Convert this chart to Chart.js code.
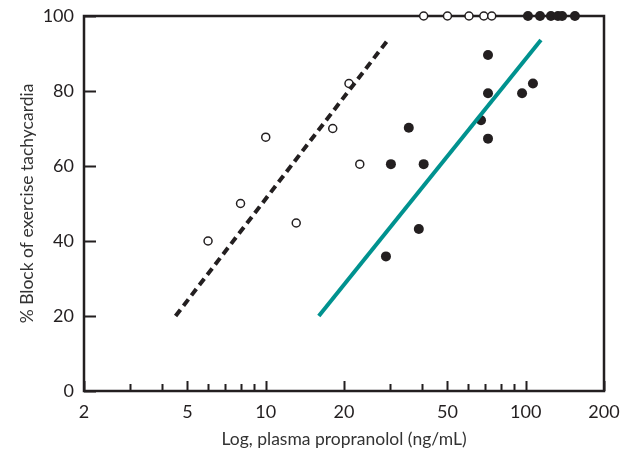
<!DOCTYPE html>
<html>
<head>
<meta charset="utf-8">
<script src="https://cdn.jsdelivr.net/npm/chart.js@4.4.1/dist/chart.umd.min.js"></script>
<style>
  html, body { margin: 0; padding: 0; background: #fff; }
  #wrap { width: 625px; height: 454px; }
</style>
</head>
<body>
<div id="wrap"><canvas id="grafico"></canvas></div>
<script>
// open circles (propranolol alone)
const abertosX = [6, 8, 10, 13.1, 18.1, 20.9, 23, 40.5, 50, 60.5, 69, 74];
const abertosY = [40, 50, 67.7, 44.8, 70, 82, 60.5, 100, 100, 100, 100, 100];
// filled circles
const cheiosX = [29, 30.3, 35.5, 38.8, 40.5, 67.3, 71.6, 71.6, 71.6, 96.8, 106.6, 102, 113.5, 125, 133, 138, 154.6];
const cheiosY = [35.9, 60.5, 70.2, 43.2, 60.5, 72.2, 67.3, 79.4, 89.6, 79.4, 82, 100, 100, 100, 100, 100, 100];
// regression lines
const linhaTracejadaX = [4.5, 29.5];
const linhaTracejadaY = [20, 93.6];
const linhaVerdeX = [16, 114.4];
const linhaVerdeY = [20, 93.6];
// ticks
const xTicks = [2, 3, 4, 5, 6, 7, 8, 9, 10, 20, 30, 40, 50, 60, 70, 80, 90, 100, 200];
const xRotulos = [2, 5, 10, 20, 50, 100, 200];
const yTicks = [0, 20, 40, 60, 80, 100];

const pares = (xs, ys) => xs.map((v, i) => ({ x: v, y: ys[i] }));
const cor = '#231f20';

const moldura = {
    id: 'moldura',
    beforeDatasetsDraw(chart) {
        const { ctx, chartArea: { left, right, top, bottom }, scales: { x, y } } = chart;
        ctx.save();
        ctx.strokeStyle = cor;
        ctx.lineWidth = 2.5;
        ctx.strokeRect(left, top, right - left, bottom - top);
        ctx.lineWidth = 2;
        ctx.beginPath();
        xTicks.forEach(v => {
            const px = Math.round(x.getPixelForValue(v)) + 0.5;
            const len = xRotulos.includes(v) ? 10 : 7;
            ctx.moveTo(px, bottom);
            ctx.lineTo(px, bottom - len);
        });
        yTicks.forEach(v => {
            const py = Math.round(y.getPixelForValue(v)) + 0.5;
            ctx.moveTo(left, py);
            ctx.lineTo(left + 12, py);
        });
        ctx.stroke();
        ctx.restore();
    }
};

const graficoPropranolol = new Chart(document.getElementById('grafico').getContext('2d'), {
    type: 'scatter',
    data: {
        datasets: [
            {
                label: 'Tracejada',
                type: 'line',
                data: pares(linhaTracejadaX, linhaTracejadaY),
                borderColor: cor,
                borderWidth: 4,
                borderDash: [8, 5],
                pointRadius: 0,
                fill: false
            },
            {
                label: 'Verde',
                type: 'line',
                data: pares(linhaVerdeX, linhaVerdeY),
                borderColor: '#00928f',
                borderWidth: 4,
                pointRadius: 0,
                fill: false
            },
            {
                label: 'Abertos',
                data: pares(abertosX, abertosY),
                pointRadius: 4,
                pointBorderWidth: 1.5,
                pointBackgroundColor: '#fff',
                pointBorderColor: cor,
                clip: false
            },
            {
                label: 'Cheios',
                data: pares(cheiosX, cheiosY),
                pointRadius: 5,
                pointBorderWidth: 0,
                pointBackgroundColor: cor,
                pointBorderColor: cor,
                clip: false
            }
        ]
    },
    options: {
        responsive: true,
        maintainAspectRatio: false,
        animation: false,
        layout: { padding: { top: 16, right: 21, left: 0, bottom: 0 } },
        plugins: {
            legend: { display: false },
            tooltip: { enabled: false }
        },
        scales: {
            x: {
                type: 'logarithmic',
                min: 2,
                max: 200,
                afterFit: s => {
                    s.height = 63;
                    s.paddingLeft = 0;
                    s.paddingRight = 0;
                },
                afterBuildTicks: s => { s.ticks = xTicks.map(v => ({ value: v })); },
                grid: { display: false, drawTicks: false },
                border: { display: false },
                ticks: {
                    autoSkip: false,
                    maxRotation: 0,
                    padding: 10,
                    color: cor,
                    font: { family: 'Lato', size: 18 },
                    callback: v => xRotulos.includes(v) ? String(v) : ''
                },
                title: {
                    display: true,
                    text: 'Log, plasma propranolol (ng/mL)',
                    color: '#333',
                    font: { family: 'Lato', size: 17.5 },
                    padding: { top: 4, bottom: 4 }
                }
            },
            y: {
                min: 0,
                max: 100,
                afterFit: s => {
                    s.width = 84;
                    s.paddingTop = 0;
                    s.paddingBottom = 0;
                },
                afterBuildTicks: s => { s.ticks = yTicks.map(v => ({ value: v })); },
                grid: { display: false, drawTicks: false },
                border: { display: false },
                ticks: {
                    padding: 10,
                    color: cor,
                    font: { family: 'Lato', size: 18 }
                },
                title: {
                    display: true,
                    text: '% Block of exercise tachycardia',
                    color: '#333',
                    font: { family: 'Lato', size: 17.5 },
                    padding: { top: 17, bottom: 4 }
                }
            }
        }
    },
    plugins: [moldura]
});
</script>
</body>
</html>
